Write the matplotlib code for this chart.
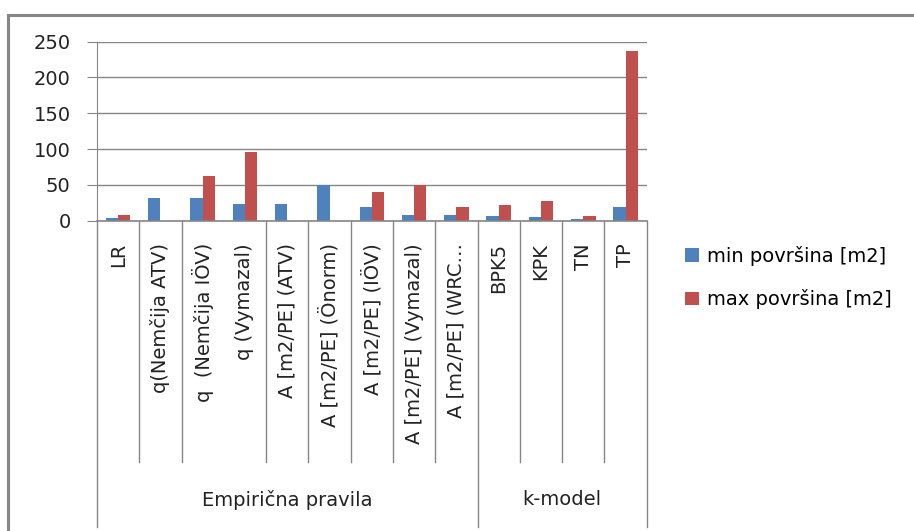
import matplotlib
matplotlib.use('Agg')
import matplotlib.pyplot as plt
import numpy as np
from matplotlib.lines import Line2D
import matplotlib.transforms as mtransforms

categories = ['LR', 'q(Nemčija ATV)', 'q  (Nemčija IÖV)', 'q (Vymazal)',
              'A [m2/PE] (ATV)', 'A [m2/PE] (Önorm)', 'A [m2/PE] (IÖV)',
              'A [m2/PE] (Vymazal)', 'A [m2/PE] (WRC…',
              'BPK5', 'KPK', 'TN', 'TP']
groups = ['Empirična pravila', 'k-model']
group_sizes = [9, 4]
min_area = [4, 32, 32, 24, 24, 50, 19, 8, 8, 7, 5, 3, 19]
max_area = [8, 0, 63, 96, 0, 0, 40, 50, 19, 22, 27, 6, 237]
series_names = ['min površina [m2]', 'max površina [m2]']
yticks = [0, 50, 100, 150, 200, 250]

W, H = 914, 531
fig = plt.figure(figsize=(W / 100, H / 100), dpi=100)
ax = fig.add_axes([97 / W, 1 - 220.7 / H, (646.7 - 97) / W, (220.7 - 41.7) / H])

gray = '#868686'
x = np.arange(len(categories))
bw = 0.29
ax.bar(x - bw / 2, min_area, bw, color='#4F81BD', label=series_names[0], zorder=3)
ax.bar(x + bw / 2, max_area, bw, color='#C0504D', label=series_names[1], zorder=3)

ax.set_xlim(-0.5, len(categories) - 0.5)
ax.set_ylim(0, 250)
ax.set_yticks(yticks)
ax.yaxis.grid(True, color=gray, lw=1, zorder=0)
for s in ['top', 'right', 'bottom']:
    ax.spines[s].set_visible(False)
ax.spines['left'].set_color(gray)
ax.axhline(0, color=gray, lw=1.2, zorder=4, clip_on=False)
ax.tick_params(axis='y', length=7, color=gray, pad=12, labelsize=14, labelcolor='#222222')
ax.set_xticks([])

# category labels and separators below the axis
trans = mtransforms.blended_transform_factory(ax.transData, ax.transAxes)
for i, c in enumerate(categories):
    ax.text(i, -0.125, c, rotation=90, ha='center', va='top', fontsize=14,
            color='#222222', transform=trans)

bounds = np.cumsum([0] + group_sizes) - 0.5
for b in np.arange(-0.5, len(categories)):
    if b in bounds:
        y0 = -1.709
    elif b == 2.5:
        continue
    else:
        y0 = -1.346
    ax.add_line(Line2D([b, b], [0, y0], color=gray, lw=1, transform=trans, clip_on=False))

for g, a, b in zip(groups, bounds[:-1], bounds[1:]):
    ax.text((a + b) / 2, -1.56, g, ha='center', va='center', fontsize=14,
            color='#222222', transform=trans)

ax.legend(loc='upper left', bbox_to_anchor=(685 / W, 1 - 246 / H),
          bbox_transform=fig.transFigure, frameon=False,
          fontsize=14, handlelength=0.72, handleheight=0.72, handletextpad=0.4,
          labelspacing=1.2, borderpad=0, borderaxespad=0)

# chart border
fig.add_artist(Line2D([8 / W, 8 / W], [1 - 14.7 / H, 0], color=gray, lw=2.2))
fig.add_artist(Line2D([8 / W, 1], [1 - 14.7 / H, 1 - 14.7 / H], color=gray, lw=2.2))

fig.savefig('out.png', dpi=100)
